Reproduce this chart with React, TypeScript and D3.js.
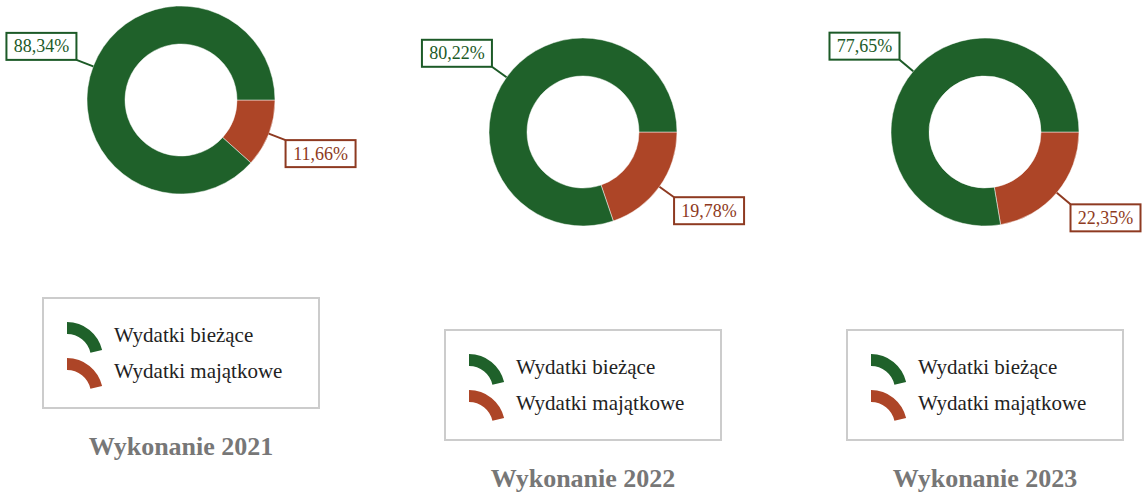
import React from "react";
import * as d3 from "d3";

// values
const years = ["2021", "2022", "2023"];
const categories = ["Wydatki bieżące", "Wydatki majątkowe"];
const biezace = [88.34, 80.22, 77.65];
const majatkowe = [11.66, 19.78, 22.35];

const colors = ["#1f612a", "#ad4527"];
const labelColors = ["#1c5a27", "#8e3a21"];

const W = 1142;
const H = 495;
const R = 94;
const INNER = 56;
const FONT = "'Liberation Serif', 'Times New Roman', serif";

// panel centres (layout only)
const centres: [number, number][] = [
  [181, 100],
  [583, 132],
  [985, 132],
];

const fmt = (v: number) => v.toFixed(2).replace(".", ",") + "%";

function Panel({ idx }: { idx: number }) {
  const [cx, cy] = centres[idx];
  const values = [biezace[idx], majatkowe[idx]];

  // red slice starts at 3 o'clock, green fills the rest
  const pie = d3
    .pie<number>()
    .sort(null)
    .startAngle(Math.PI / 2)
    .endAngle(Math.PI / 2 + 2 * Math.PI)
    .value((d) => d);
  const slices = pie([values[1], values[0]]).map((s, i) => ({ s, cat: 1 - i }));

  const arc = d3.arc<d3.PieArcDatum<number>>().innerRadius(INNER).outerRadius(R);

  const legendArc = d3
    .arc()
    .innerRadius(24)
    .outerRadius(36)
    .startAngle(0)
    .endAngle(1.35);

  const boxW = 70;
  const boxH = 27;
  const boxX = -138;
  const boxY = 198;

  return (
    <g transform={`translate(${cx},${cy})`}>
      {slices.map(({ s, cat }) => (
        <path
          key={"p" + cat}
          d={arc(s) || ""}
          fill={colors[cat]}
          stroke="#ffffff"
          strokeOpacity={0.6}
          strokeWidth={0.8}
        />
      ))}
      {slices.map(({ s, cat }) => {
        const mid = (s.startAngle + s.endAngle) / 2;
        const sx = Math.sin(mid);
        const sy = -Math.cos(mid);
        const x0 = sx * R;
        const y0 = sy * R;
        const L = 18;
        const x1 = sx * (R + L);
        const y1 = sy * (R + L);
        const bx = sx < 0 ? x1 - boxW : x1;
        const by = sy < 0 ? y1 - boxH : y1;
        return (
          <g key={"l" + cat}>
            <line x1={x0} y1={y0} x2={x1} y2={y1} stroke={labelColors[cat]} strokeWidth={2} />
            <rect
              x={bx}
              y={by}
              width={boxW}
              height={boxH}
              fill="#fff"
              stroke={labelColors[cat]}
              strokeWidth={2}
            />
            <text
              x={bx + boxW / 2}
              y={by + boxH / 2 + 6}
              textAnchor="middle"
              fontFamily={FONT}
              fontSize={18}
              fill={labelColors[cat]}
            >
              {fmt(values[cat])}
            </text>
          </g>
        );
      })}
      <rect
        x={boxX}
        y={boxY}
        width={276}
        height={110}
        fill="#fff"
        stroke="#cccccc"
        strokeWidth={2}
      />
      {categories.map((c, i) => (
        <g key={c} transform={`translate(${boxX + 24},${boxY + 60 + i * 36})`}>
          <path d={legendArc(null as any) || ""} fill={colors[i]} />
          <text x={47} y={-16} fontFamily={FONT} fontSize={21} fill="#222">
            {c}
          </text>
        </g>
      ))}
      <text
        x={0}
        y={355}
        textAnchor="middle"
        fontFamily={FONT}
        fontSize={26}
        fontWeight="bold"
        fill="#777777"
      >
        {"Wykonanie " + years[idx]}
      </text>
    </g>
  );
}

export default function App() {
  return (
    <svg
      width={W}
      height={H}
      style={{ position: "absolute", left: 0, top: 0, background: "#fff" }}
    >
      {years.map((y, i) => (
        <Panel key={y} idx={i} />
      ))}
    </svg>
  );
}
